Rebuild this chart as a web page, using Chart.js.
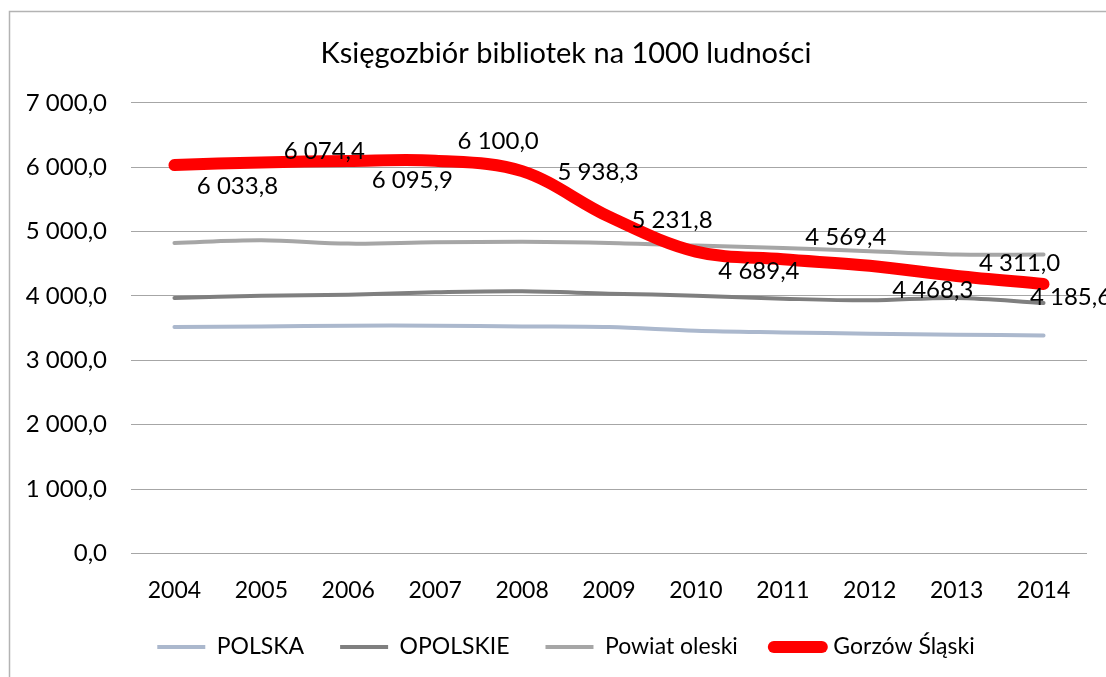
<!DOCTYPE html>
<html>
<head>
<meta charset="utf-8">
<script src="https://cdn.jsdelivr.net/npm/chart.js@4.4.1/dist/chart.umd.min.js"></script>
<style>
  html, body { margin: 0; padding: 0; background: #fff; }
  #wrap { width: 1106px; height: 677px; }
</style>
</head>
<body>
<div id="wrap"><canvas id="chart" width="1106" height="677"></canvas></div>
<script>
const years = ['2004', '2005', '2006', '2007', '2008', '2009', '2010', '2011', '2012', '2013', '2014'];
const polska = [3518, 3527, 3538, 3538, 3527, 3518, 3460, 3434, 3414, 3398, 3387];
const opolskie = [3969, 4005, 4020, 4056, 4072, 4036, 4005, 3958, 3932, 3969, 3891];
const powiatOleski = [4824, 4865, 4813, 4834, 4840, 4824, 4782, 4746, 4694, 4642, 4642];
const gorzow = [6033.8, 6074.4, 6095.9, 6100.0, 5938.3, 5231.8, 4689.4, 4569.4, 4468.3, 4311.0, 4185.6];

const FONT = 'Lato, "Open Sans", sans-serif';

// Polish number format: "6 033,8"
function fmt(v) {
  const parts = Number(v).toFixed(1).split('.');
  return parts[0].replace(/\B(?=(\d{3})+(?!\d))/g, ' ') + ',' + parts[1];
}

// label offsets for the red series (dx, dy in px from the point)
const labelShift = [[63, 21], [63, -11], [64, 19], [63, -19], [76, 1], [63, 4], [63, 20], [63, -22], [63, 24], [63, -13], [27, 13]];

const frame = {
  id: 'frame',
  beforeDraw(chart) {
    const ctx = chart.ctx;
    ctx.save();
    ctx.fillStyle = '#fff';
    ctx.fillRect(0, 0, chart.width, chart.height);
    ctx.strokeStyle = '#b3b3b3';
    ctx.lineWidth = 1.5;
    ctx.strokeRect(9.5, 11.5, 1200, 800);
    ctx.restore();
  }
};

const valueLabels = {
  id: 'valueLabels',
  afterDatasetsDraw(chart) {
    const meta = chart.getDatasetMeta(3);
    const ctx = chart.ctx;
    ctx.save();
    ctx.font = '24px ' + FONT;
    ctx.fillStyle = '#000';
    ctx.textAlign = 'center';
    ctx.textBaseline = 'middle';
    meta.data.forEach((pt, i) => {
      const s = labelShift[i];
      ctx.fillText(fmt(gorzow[i]), pt.x + s[0], pt.y + s[1]);
    });
    ctx.restore();
  }
};

new Chart(document.getElementById('chart'), {
  type: 'line',
  data: {
    labels: years,
    datasets: [
      { label: 'POLSKA', data: polska, borderColor: '#abb8cd', backgroundColor: '#abb8cd', borderWidth: 4, order: 3 },
      { label: 'OPOLSKIE', data: opolskie, borderColor: '#7f7f7f', backgroundColor: '#7f7f7f', borderWidth: 4, order: 2 },
      { label: 'Powiat oleski', data: powiatOleski, borderColor: '#a6a6a6', backgroundColor: '#a6a6a6', borderWidth: 4, order: 1 },
      { label: 'Gorzów Śląski', data: gorzow, borderColor: '#ff0000', backgroundColor: '#ff0000', borderWidth: 12, borderCapStyle: 'round', order: 0 }
    ]
  },
  options: {
    responsive: false,
    animation: false,
    layout: { padding: { left: 26, right: 0, top: 0, bottom: 8.5 } },
    elements: {
      point: { radius: 0, hoverRadius: 0 },
      line: { tension: 0.35, fill: false, borderCapStyle: 'round', borderJoinStyle: 'round' }
    },
    plugins: {
      tooltip: { enabled: false },
      title: {
        display: true,
        text: 'Księgozbiór bibliotek na 1000 ludności',
        color: '#000',
        font: { family: FONT, size: 29, weight: 'normal' },
        padding: { top: 36, bottom: 32 }
      },
      legend: {
        position: 'bottom',
        labels: {
          color: '#000',
          font: { family: FONT, size: 23 },
          usePointStyle: true,
          pointStyle: 'line',
          pointStyleWidth: 48,
          padding: 36,
          sort: (a, b) => a.datasetIndex - b.datasetIndex,
          generateLabels(chart) {
            const items = Chart.defaults.plugins.legend.labels.generateLabels(chart);
            items.forEach(it => {
              const ds = chart.data.datasets[it.datasetIndex];
              it.lineCap = ds.borderCapStyle || 'butt';
              it.lineWidth = ds.borderWidth;
              it.strokeStyle = ds.borderColor;
            });
            return items;
          }
        }
      }
    },
    scales: {
      x: {
        offset: true,
        afterFit(scale) { scale.height = 46; },
        grid: { display: false, drawTicks: false },
        border: { display: false },
        ticks: { color: '#000', font: { family: FONT, size: 23 }, padding: 23, maxRotation: 0 }
      },
      y: {
        min: 0,
        max: 7000,
        afterFit(scale) { scale.width = 105; },
        grid: { color: '#a6a6a6', lineWidth: 1, drawTicks: false },
        border: { display: false },
        ticks: { stepSize: 1000, color: '#000', font: { family: FONT, size: 24 }, padding: 24, callback: v => fmt(v) }
      },
      // empty right margin, keeps the plot's right edge where the reference has it
      yRight: {
        position: 'right',
        display: true,
        afterFit(scale) { scale.width = 19; },
        grid: { display: false, drawTicks: false },
        border: { display: false },
        ticks: { display: false }
      }
    }
  },
  plugins: [frame, valueLabels]
});
</script>
</body>
</html>
